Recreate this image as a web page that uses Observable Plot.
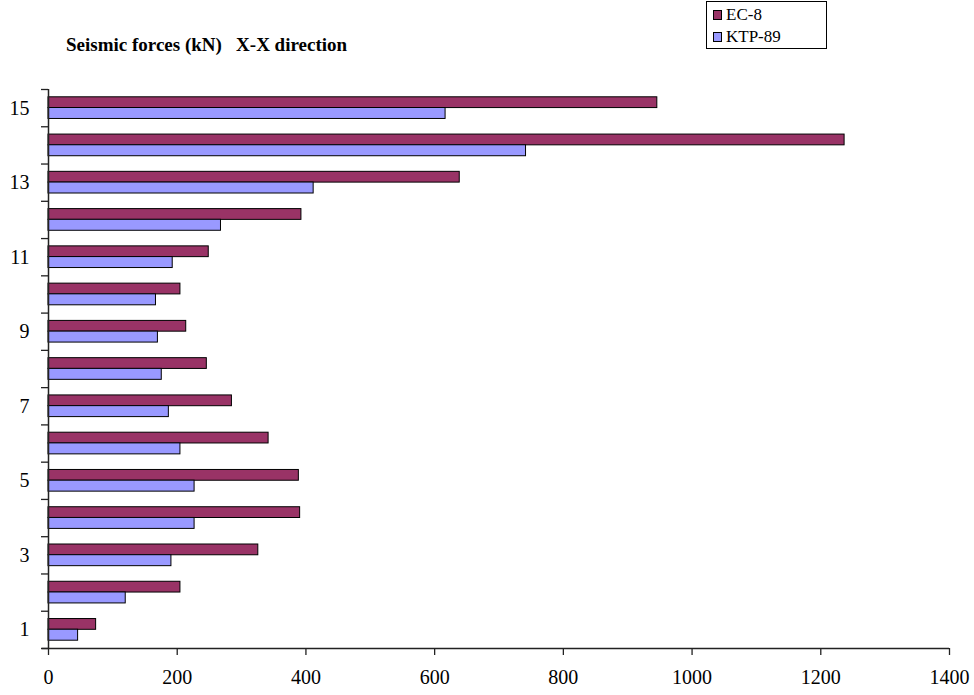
<!DOCTYPE html>
<html>
<head>
<meta charset="utf-8">
<script src="https://cdn.jsdelivr.net/npm/d3@7"></script>
<script src="https://cdn.jsdelivr.net/npm/@observablehq/plot@0.6"></script>
<style>
  body { margin: 0; background: #fff; font-family: "Liberation Serif", "Times New Roman", serif; }
  #wrap { position: relative; width: 974px; height: 695px; }
  #title { position: absolute; left: 66px; top: 34px; font-size: 19px; font-weight: bold; white-space: pre; color: #000; font-family: "Liberation Serif", serif; }
  #legend { position: absolute; left: 706px; top: 1px; width: 119px; height: 46px; border: 1px solid #000; background: #fff; font-size: 17px; font-family: "Liberation Serif", serif; }
  .item { position: absolute; left: 6px; display: flex; align-items: center; height: 20px; }
  .sw { width: 7px; height: 8px; border: 1px solid #000; margin-right: 4px; }
  #chart { position: absolute; left: 0; top: 0; }
</style>
</head>
<body>
<div id="wrap">
  <div id="chart"></div>
  <div id="title">Seismic forces (kN)   X-X direction</div>
  <div id="legend"></div>
</div>
<script>
const categories = [1, 2, 3, 4, 5, 6, 7, 8, 9, 10, 11, 12, 13, 14, 15];
const ec8 = [74, 205, 326, 391, 389, 342, 285, 246, 214, 205, 249, 393, 639, 1237, 946];
const ktp89 = [46, 120, 191, 227, 227, 205, 187, 176, 170, 167, 193, 268, 412, 742, 617];
const seriesNames = ["EC-8", "KTP-89"];
const seriesColors = ["#993366", "#9999FF"];
const xTicks = [0, 200, 400, 600, 800, 1000, 1200, 1400];
const yLabels = [1, 3, 5, 7, 9, 11, 13, 15];

const ecData = categories.map((c, i) => ({cat: c, value: ec8[i]}));
const ktpData = categories.map((c, i) => ({cat: c, value: ktp89[i]}));
const boundaries = [0.5, ...categories.map(c => c + 0.5)];

const chart = Plot.plot({
  width: 974,
  height: 695,
  marginTop: 89,
  marginBottom: 47,
  marginLeft: 48,
  marginRight: 25,
  style: {fontFamily: "'Liberation Serif', 'Times New Roman', serif", fontSize: "20px", color: "#000", background: "#fff"},
  x: {domain: [0, 1400], label: null},
  y: {domain: [0.5, 15.5], label: null},
  marks: [
    Plot.rectX(ecData, {x1: 0, x2: "value", y1: d => d.cat - 0.5, y2: d => d.cat + 0.5,
      insetTop: 7.8, insetBottom: 18.7, fill: seriesColors[0], stroke: "#000", strokeWidth: 1}),
    Plot.rectX(ktpData, {x1: 0, x2: "value", y1: d => d.cat - 0.5, y2: d => d.cat + 0.5,
      insetTop: 18.5, insetBottom: 7.8, fill: seriesColors[1], stroke: "#000", strokeWidth: 1}),
    Plot.axisY({ticks: boundaries, tickFormat: () => "", tickSize: 7, stroke: "#222", strokeWidth: 1.3, label: null}),
    Plot.axisY({ticks: yLabels, tickSize: 0, tickPadding: 19, fontSize: 20, fill: "#000", label: null}),
    Plot.axisX({ticks: xTicks, tickSize: 7, tickPadding: 14, fontSize: 20, fill: "#000", stroke: "#222", strokeWidth: 1.3, tickFormat: d => String(d), label: null}),
    Plot.ruleX([0], {stroke: "#222", strokeWidth: 1.5}),
    Plot.ruleY([0.5], {x1: -10, x2: 1400, stroke: "#222", strokeWidth: 1.5})
  ]
});
document.getElementById("chart").appendChild(chart);

const legend = document.getElementById("legend");
seriesNames.forEach((name, i) => {
  const it = document.createElement("div");
  it.className = "item";
  it.style.top = (3 + i * 22) + "px";
  const sw = document.createElement("span");
  sw.className = "sw";
  sw.style.background = seriesColors[i];
  const tx = document.createElement("span");
  tx.textContent = name;
  it.appendChild(sw);
  it.appendChild(tx);
  legend.appendChild(it);
});
</script>
</body>
</html>
